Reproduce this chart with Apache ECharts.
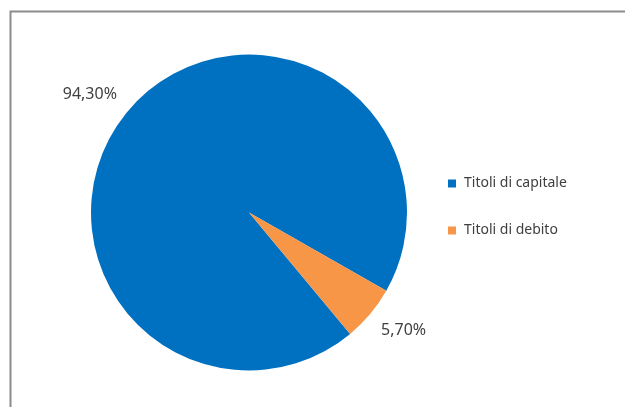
<!DOCTYPE html>
<html><head><meta charset="utf-8">
<script src="https://cdn.jsdelivr.net/npm/echarts@6/dist/echarts.min.js"></script>
<style>html,body{margin:0;padding:0;background:#fff}#c{width:625px;height:407px}</style>
</head><body><div id="c"></div>
<script>
var categories = ["Titoli di capitale", "Titoli di debito"];
var values = [94.3, 5.7];
var colors = ["#0070C0", "#F79646"];
var chart = echarts.init(document.getElementById('c'));
var font = "Noto Sans";
chart.setOption({
  animation: false,
  graphic: [{type:'rect', shape:{x:10.5, y:11.5, width:700, height:500}, style:{fill:'none', stroke:'#8c8c8c', lineWidth:2}}],
  legend: {
    orient: 'vertical', left: 443, top: 170.5,
    itemWidth: 8, itemHeight: 8, itemGap: 31, icon: 'rect',
    textStyle: {fontFamily: font, fontSize: 14, color: '#404040', lineHeight: 16, padding: [0,0,0,3]},
    data: categories
  },
  series: [{
    type: 'pie', center: [249, 212.5], radius: 158, startAngle: -50.2,
    data: categories.map(function(c,i){return {name:c, value:values[i], itemStyle:{color:colors[i]}};}),
    label: {show: true, position: 'outside', fontFamily: font, fontSize: 16, color: '#404040',
      distanceToLabelLine: -9,
      formatter: function(p){return p.value.toFixed(2).replace('.', ',') + '%';}},
    labelLine: {show: false, length: 26, length2: 0},
    emphasis: {disabled: true}
  }]
});
</script></body></html>
